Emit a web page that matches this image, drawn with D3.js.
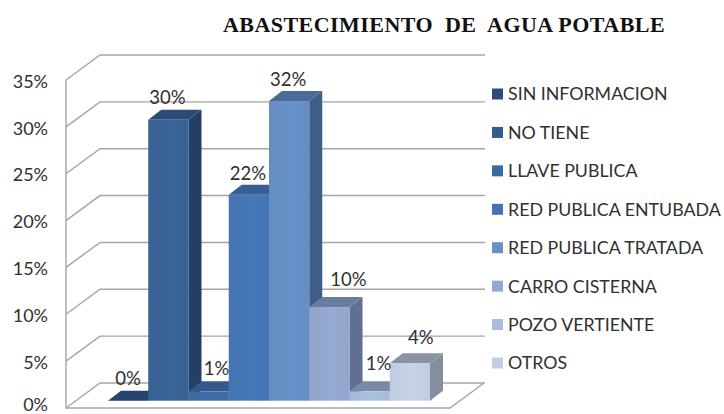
<!DOCTYPE html>
<html>
<head>
<meta charset="utf-8">
<script src="https://cdn.jsdelivr.net/npm/d3@7"></script>
<style>
  html, body { margin: 0; padding: 0; background: #fff; }
  svg { display: block; }
  text { font-family: Lato, "Open Sans", sans-serif; fill: #303030; }
</style>
</head>
<body>
<div class="chart"></div>
<script>
const categories = ['SIN INFORMACION', 'NO TIENE', 'LLAVE PUBLICA', 'RED PUBLICA ENTUBADA',
  'RED PUBLICA TRATADA', 'CARRO CISTERNA', 'POZO VERTIENTE', 'OTROS'];
const values = [0, 30, 1, 22, 32, 10, 1, 4];
const yTicks = [0, 5, 10, 15, 20, 25, 30, 35];

const frontColors = ['#2f5283', '#3a6396', '#3e6ba6', '#4576b5', '#6790c7', '#94a9d0', '#aabcdc', '#c3cfe4'];
const sideColors = ['#1f3a60', '#233f66', '#2a4a78', '#2f5080', '#3f5e87', '#5f7092', '#727f99', '#858e9f'];
const topColors = ['#24436f', '#2c4c78', '#33598c', '#375f92', '#4a6b9a', '#6a7ca0', '#7a8aa5', '#8a93a3'];
const legendColors = ['#2c4d7c', '#355c8f', '#3d6aa6', '#4472b4', '#6790c7', '#94a9d0', '#aabcdc', '#c3cfe4'];

// labels in the source were dragged around by hand, so they get their own nudge
const labelNudgeX = [0, -1, 8, -1, -1, 19, 9, 11];
const labelNudgeY = [0, 0, -1, 1, 0, -6, -6, -4];

const width = 724;
const height = 414;

// wall depth and bar depth of the fake 3d box
const wallDx = 34;
const wallDy = -25;
const barDx = 13;
const barDy = -10;

const svg = d3
  .select('.chart')
  .append('svg')
  .attr('width', width)
  .attr('height', height);

const x = d3
  .scaleBand()
  .domain(categories)
  .range([108, 430]);
// scale of the front edge of the box
const yWall = d3
  .scaleLinear()
  .domain([0, 35])
  .range([408, 80]);
// scale of the plane the bars stand on
const yBar = d3
  .scaleLinear()
  .domain([0, 35])
  .range([400.7, 73]);

const defs = svg.append('defs');
frontColors.forEach((c, i) => {
  const grad = defs
    .append('linearGradient')
    .attr('id', 'front' + i);
  grad.append('stop').attr('offset', '0%').attr('stop-color', d3.color(c).darker(0.06));
  grad.append('stop').attr('offset', '55%').attr('stop-color', d3.color(c).brighter(0.04));
  grad.append('stop').attr('offset', '100%').attr('stop-color', d3.color(c).darker(0.04));
});

// walls
const wallRight = 450;
const grid = svg.append('g').attr('fill', 'none').attr('stroke', '#a5a5a5').attr('stroke-width', 1.4);
grid
  .selectAll('path')
  .data(yTicks)
  .enter()
  .append('path')
  .attr('d', d => {
    const y0 = yWall(d);
    return `M66,${y0}L${66 + wallDx},${y0 + wallDy}L${wallRight + wallDx + 1},${y0 + wallDy}`;
  });
grid
  .append('path')
  .attr('d', `M66,${yWall(35)}L66,${yWall(0)}L${wallRight},${yWall(0)}L${wallRight + wallDx},${yWall(0) + wallDy}`);

// y labels, the 0% one is lifted a bit so it stays inside the page
const yAxis = svg
  .append('g')
  .attr('transform', 'translate(48,0)')
  .call(d3.axisLeft(yWall).tickValues(yTicks).tickFormat(d => d + '%').tickSize(0).tickPadding(0));
yAxis.select('.domain').remove();
yAxis
  .selectAll('text')
  .style('font-size', '18px')
  .attr('dy', d => (d === 0 ? '0.12em' : '0.4em'))
  .attr('fill', '#303030');

// bars
const bars = svg
  .selectAll('.bar')
  .data(categories)
  .enter()
  .append('g')
  .attr('class', 'bar');

bars
  .append('path')
  .attr('fill', (d, i) => sideColors[i])
  .attr('d', (d, i) => {
    const r = x(d) + x.bandwidth();
    const t = yBar(values[i]);
    const b = yBar(0);
    return `M${r},${t}L${r + barDx},${t + barDy}L${r + barDx},${b + barDy}L${r},${b}Z`;
  });
bars
  .append('path')
  .attr('fill', (d, i) => topColors[i])
  .attr('d', (d, i) => {
    const l = x(d);
    const r = l + x.bandwidth();
    const t = yBar(values[i]);
    return `M${l},${t}L${l + barDx},${t + barDy}L${r + barDx},${t + barDy}L${r},${t}Z`;
  });
bars
  .append('rect')
  .attr('x', d => x(d))
  .attr('y', (d, i) => yBar(values[i]))
  .attr('width', x.bandwidth())
  .attr('height', (d, i) => yBar(0) - yBar(values[i]))
  .attr('fill', (d, i) => `url(#front${i})`);

// value labels
svg
  .selectAll('.value')
  .data(categories)
  .enter()
  .append('text')
  .attr('class', 'value')
  .attr('x', (d, i) => x(d) + x.bandwidth() / 2 + labelNudgeX[i])
  .attr('y', (d, i) => yBar(values[i]) - 22 + labelNudgeY[i])
  .attr('dy', '0.36em')
  .attr('text-anchor', 'middle')
  .style('font-size', '18.5px')
  .text((d, i) => values[i] + '%');

// legend
const legendY = d3
  .scalePoint()
  .domain(categories)
  .range([94, 363]);
const legend = svg
  .selectAll('.legend')
  .data(categories)
  .enter()
  .append('g')
  .attr('class', 'legend')
  .attr('transform', d => `translate(492,${legendY(d)})`);
legend
  .append('rect')
  .attr('y', -5.5)
  .attr('width', 11)
  .attr('height', 11)
  .attr('fill', (d, i) => legendColors[i]);
legend
  .append('text')
  .attr('x', 16)
  .attr('dy', '0.36em')
  .style('font-size', '17.8px')
  .text(d => d);

// title
svg
  .append('text')
  .attr('x', 444)
  .attr('y', 32)
  .attr('text-anchor', 'middle')
  .style('font-family', '"Liberation Serif", serif')
  .style('font-weight', 'bold')
  .style('font-size', '22px')
  .style('letter-spacing', '0.45px')
  .style('fill', '#111')
  .style('white-space', 'pre')
  .text('ABASTECIMIENTO  DE  AGUA POTABLE');
</script>
</body>
</html>
